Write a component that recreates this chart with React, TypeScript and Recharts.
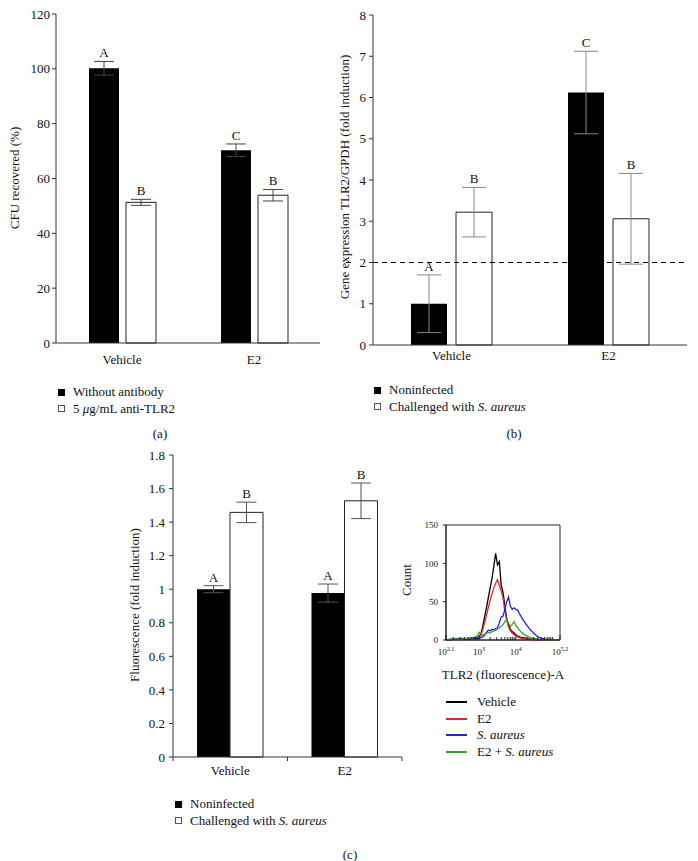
import React from 'react';
import {
  BarChart, Bar, XAxis, YAxis, ErrorBar, LabelList, ReferenceLine,
  LineChart, Line, ReferenceArea,
} from 'recharts';

const FONT = "'Liberation Serif', 'DejaVu Serif', serif";

// (a) CFU recovered
const A_GROUPS = ['Vehicle', 'E2'];
const A_NO_AB = [100.2, 70.3];
const A_NO_AB_ERR = [2.5, 2.3];
const A_NO_AB_TAG = ['A', 'C'];
const A_ANTI = [51.3, 53.9];
const A_ANTI_ERR = [1.1, 2.1];
const A_ANTI_TAG = ['B', 'B'];
const A_TICKS = [0, 20, 40, 60, 80, 100, 120];

// (b) TLR2 gene expression
const B_GROUPS = ['Vehicle', 'E2'];
const B_NONINF = [1.0, 6.12];
const B_NONINF_ERR = [0.7, 1.0];
const B_NONINF_TAG = ['A', 'C'];
const B_CHAL = [3.22, 3.06];
const B_CHAL_ERR = [0.6, 1.1];
const B_CHAL_TAG = ['B', 'B'];
const B_TICKS = [0, 1, 2, 3, 4, 5, 6, 7, 8];
const B_THRESHOLD = 2;

// (c) TLR2 fluorescence
const C_GROUPS = ['Vehicle', 'E2'];
const C_NONINF = [1.0, 0.977];
const C_NONINF_ERR = [0.021, 0.054];
const C_NONINF_TAG = ['A', 'A'];
const C_CHAL = [1.458, 1.527];
const C_CHAL_ERR = [0.061, 0.106];
const C_CHAL_TAG = ['B', 'B'];
const C_TICKS = [0, 0.2, 0.4, 0.6, 0.8, 1, 1.2, 1.4, 1.6, 1.8];

// flow histogram, x = log10(fluorescence)
const H_LOG_X = [2.1, 2.3, 2.5, 2.7, 2.85, 2.95, 3.0, 3.05, 3.1, 3.15, 3.2, 3.25, 3.3, 3.35, 3.4, 3.45, 3.5, 3.55, 3.6, 3.65, 3.7, 3.75, 3.8, 3.85, 3.9, 3.95, 4.0, 4.05, 4.1, 4.15, 4.2, 4.3, 4.4, 4.5, 4.6, 4.7, 4.8, 5.0, 5.2];
const H_VEHICLE = [0, 1, 2, 1, 3, 2, 4, 8, 18, 30, 42, 55, 68, 80, 96, 113, 98, 102, 72, 62, 45, 28, 20, 14, 11, 9, 7, 5, 4, 3, 3, 2, 1, 1, 0, 0, 0, 0, 0];
const H_E2 = [0, 1, 1, 2, 2, 3, 3, 6, 14, 22, 32, 42, 52, 60, 68, 74, 79, 71, 64, 55, 38, 26, 17, 12, 9, 7, 6, 4, 3, 2, 2, 1, 1, 0, 0, 0, 0, 0, 0];
const H_SA = [0, 1, 2, 1, 2, 3, 2, 3, 4, 6, 10, 13, 12, 14, 13, 15, 16, 22, 30, 31, 40, 50, 56, 44, 40, 42, 40, 39, 34, 30, 26, 19, 13, 8, 4, 2, 1, 0, 0];
const H_E2_SA = [0, 1, 1, 2, 3, 5, 10, 8, 6, 8, 9, 10, 9, 11, 12, 13, 14, 16, 18, 20, 24, 27, 22, 18, 20, 24, 19, 16, 13, 10, 8, 5, 3, 2, 1, 0, 0, 0, 0];
const H_Y_TICKS = [0, 50, 100, 150];
const H_LABELED = [2.1, 3, 4, 5.2];
const H_MINOR = [2.3, 2.48, 2.6, 2.7, 2.78, 2.85, 2.9, 2.95, 3.3, 3.48, 3.6, 3.7, 3.78, 3.85, 3.9, 3.95, 4.3, 4.48, 4.6, 4.7, 4.78, 4.85, 4.9, 4.95, 5.0];
const H_SERIES = [
  { key: 'vehicle', color: '#000000' },
  { key: 'e2', color: '#e3262b' },
  { key: 'sa', color: '#2323d8' },
  { key: 'e2sa', color: '#3f9f35' },
];
const H_NAMES: Record<string, React.ReactNode> = {
  vehicle: 'Vehicle',
  e2: 'E2',
  sa: <i>S. aureus</i>,
  e2sa: <>E2 + <i>S. aureus</i></>,
};

const aData = A_GROUPS.map((g, i) => ({ g, noAb: A_NO_AB[i], noAbErr: A_NO_AB_ERR[i], anti: A_ANTI[i], antiErr: A_ANTI_ERR[i] }));
const bData = B_GROUPS.map((g, i) => ({ g, non: B_NONINF[i], nonErr: B_NONINF_ERR[i], chal: B_CHAL[i], chalErr: B_CHAL_ERR[i] }));
const cData = C_GROUPS.map((g, i) => ({ g, non: C_NONINF[i], nonErr: C_NONINF_ERR[i], chal: C_CHAL[i], chalErr: C_CHAL_ERR[i] }));
const hData = H_LOG_X.map((x, i) => ({ x, vehicle: H_VEHICLE[i], e2: H_E2[i], sa: H_SA[i], e2sa: H_E2_SA[i] }));
const hTicks = [...H_LABELED, ...H_MINOR].sort((p, q) => p - q);

// letter above the error bar
const makeTag = (vals: number[], errs: number[], tags: string[]) => (p: any) => {
  const box = p.viewBox && p.viewBox.width != null ? p.viewBox : p;
  const i = p.index;
  const top = box.y - (box.height * errs[i]) / vals[i];
  return (
    <text x={box.x + box.width / 2} y={top - 4} textAnchor="middle" fontSize={13} fontFamily={FONT} fill="#111">
      {tags[i]}
    </text>
  );
};

const tickStyle = { fontSize: 13, fill: '#111', fontFamily: FONT };

function CTick(props: any) {
  const { x, y, payload } = props;
  const half = 57.25;
  return (
    <g>
      <line x1={x + half} x2={x + half} y1={y} y2={y + 4} stroke="#333" />
      {payload.index === 0 && <line x1={x - half} x2={x - half} y1={y} y2={y + 4} stroke="#333" />}
      <text x={x} y={y + 18} textAnchor="middle" fontSize={13} fontFamily={FONT} fill="#111">{payload.value}</text>
    </g>
  );
}

function LogTick(props: any) {
  const { x, y, payload } = props;
  const v = payload.value;
  const major = H_LABELED.includes(v);
  return (
    <g>
      <line x1={x} x2={x} y1={y} y2={y - (major ? 5 : 3)} stroke="#222" />
      {major && (
        <text x={x} y={y + 15} textAnchor="middle" fontSize={9} fontFamily={FONT} fill="#111">
          <tspan>10</tspan>
          <tspan dy={-4} fontSize={6}>{v === 3 || v === 4 ? String(v) : v.toFixed(1)}</tspan>
        </text>
      )}
    </g>
  );
}

const sq = (filled: boolean): React.CSSProperties => ({
  display: 'inline-block', width: 7, height: 7, boxSizing: 'border-box',
  background: filled ? '#000' : '#fff', border: filled ? 'none' : '1px solid #555',
});

function Legend2({ left, top, items }: { left: number; top: number; items: { filled: boolean; label: React.ReactNode }[] }) {
  return (
    <div style={{ position: 'absolute', left, top, fontSize: 13, lineHeight: '16px', color: '#111' }}>
      {items.map((it, i) => (
        <div key={i} style={{ display: 'flex', alignItems: 'center', height: i === 0 ? 16 : 17 }}>
          <span style={sq(it.filled)} />
          <span style={{ marginLeft: 8, whiteSpace: 'nowrap' }}>{it.label}</span>
        </div>
      ))}
    </div>
  );
}

function VLabel({ cx, cy, children }: { cx: number; cy: number; children: React.ReactNode }) {
  return (
    <div style={{ position: 'absolute', left: cx, top: cy, transform: 'translate(-50%, -50%) rotate(-90deg)', whiteSpace: 'nowrap', fontSize: 13, color: '#111' }}>
      {children}
    </div>
  );
}

function Caption({ cx, cy, children }: { cx: number; cy: number; children: React.ReactNode }) {
  return (
    <div style={{ position: 'absolute', left: cx, top: cy, transform: 'translate(-50%, -50%)', fontSize: 13, color: '#111' }}>
      {children}
    </div>
  );
}

const abs = (left: number, top: number): React.CSSProperties => ({ position: 'absolute', left, top });

export default function App() {
  const axisStroke = '#333';
  return (
    <div style={{ position: 'absolute', left: 0, top: 0, width: 698, height: 861, background: '#fff', fontFamily: FONT, overflow: 'hidden' }}>
      {/* (a) */}
      <div style={abs(0, 0)}>
        <BarChart width={340} height={380} data={aData} margin={{ top: 14, right: 20, left: 16, bottom: 7 }} barGap={7}>
          <XAxis dataKey="g" height={30} tickLine={false} tickSize={0} tickMargin={12} stroke={axisStroke} tick={tickStyle} />
          <YAxis width={40} domain={[0, 120]} ticks={A_TICKS} tickSize={4} tickMargin={2} stroke={axisStroke} tick={tickStyle} interval={0} />
          <Bar dataKey="noAb" fill="#000" barSize={30} isAnimationActive={false}>
            <ErrorBar dataKey="noAbErr" width={10} stroke="#444" strokeWidth={1} />
            <LabelList dataKey="noAb" content={makeTag(A_NO_AB, A_NO_AB_ERR, A_NO_AB_TAG)} />
          </Bar>
          <Bar dataKey="anti" fill="#fff" stroke="#222" strokeWidth={1} barSize={30} isAnimationActive={false}>
            <ErrorBar dataKey="antiErr" width={10} stroke="#444" strokeWidth={1} />
            <LabelList dataKey="anti" content={makeTag(A_ANTI, A_ANTI_ERR, A_ANTI_TAG)} />
          </Bar>
        </BarChart>
      </div>
      <VLabel cx={15} cy={178}>CFU recovered (%)</VLabel>
      <Legend2 left={58} top={384} items={[
        { filled: true, label: 'Without antibody' },
        { filled: false, label: <>5 <i>μ</i>g/mL anti-TLR2</> },
      ]} />
      <Caption cx={160} cy={434}>(a)</Caption>

      {/* (b) */}
      <div style={abs(340, 0)}>
        <BarChart width={358} height={380} data={bData} margin={{ top: 15, right: 11, left: 13, bottom: 5 }} barGap={9}>
          <XAxis dataKey="g" height={30} tickLine={false} tickSize={0} tickMargin={6} stroke={axisStroke} tick={tickStyle} />
          <YAxis width={20} domain={[0, 8]} ticks={B_TICKS} tickSize={4} tickMargin={3} stroke={axisStroke} tick={tickStyle} interval={0} />
          <ReferenceLine
            y={B_THRESHOLD}
            stroke="#000"
            strokeDasharray="5 4"
            shape={(p: any) => (
              <g>
                <line x1={p.x1 - 27} x2={p.x1 - 22} y1={p.y1} y2={p.y2} stroke="#000" />
                <line x1={p.x1} x2={p.x2 + 1} y1={p.y1} y2={p.y2} stroke="#000" strokeDasharray="5 4" />
              </g>
            )}
          />
          <Bar dataKey="non" fill="#000" barSize={36} isAnimationActive={false}>
            <ErrorBar dataKey="nonErr" width={12} stroke="#888" strokeWidth={1} />
            <LabelList dataKey="non" content={makeTag(B_NONINF, B_NONINF_ERR, B_NONINF_TAG)} />
          </Bar>
          <Bar dataKey="chal" fill="#fff" stroke="#222" strokeWidth={1} barSize={36} isAnimationActive={false}>
            <ErrorBar dataKey="chalErr" width={12} stroke="#888" strokeWidth={1} />
            <LabelList dataKey="chal" content={makeTag(B_CHAL, B_CHAL_ERR, B_CHAL_TAG)} />
          </Bar>
        </BarChart>
      </div>
      <VLabel cx={345} cy={177}>Gene expression TLR2/GPDH (fold induction)</VLabel>
      <Legend2 left={374} top={382} items={[
        { filled: true, label: 'Noninfected' },
        { filled: false, label: <>Challenged with <i>S. aureus</i></> },
      ]} />
      <Caption cx={514} cy={434}>(b)</Caption>

      {/* (c) */}
      <div style={abs(100, 440)}>
        <BarChart width={320} height={340} data={cData} margin={{ top: 15, right: 18, left: 33, bottom: 3 }} barGap={0}>
          <XAxis dataKey="g" height={20} tickLine={false} tickSize={0} tickMargin={0} stroke={axisStroke} tick={<CTick />} interval={0} />
          <YAxis width={40} domain={[0, 1.8]} ticks={C_TICKS} tickSize={4} tickMargin={4} stroke={axisStroke} tick={tickStyle} interval={0} />
          <Bar dataKey="non" fill="#000" barSize={33} isAnimationActive={false}>
            <ErrorBar dataKey="nonErr" width={10} stroke="#555" strokeWidth={1} />
            <LabelList dataKey="non" content={makeTag(C_NONINF, C_NONINF_ERR, C_NONINF_TAG)} />
          </Bar>
          <Bar dataKey="chal" fill="#fff" stroke="#222" strokeWidth={1} barSize={33} isAnimationActive={false}>
            <ErrorBar dataKey="chalErr" width={10} stroke="#555" strokeWidth={1} />
            <LabelList dataKey="chal" content={makeTag(C_CHAL, C_CHAL_ERR, C_CHAL_TAG)} />
          </Bar>
        </BarChart>
      </div>
      <VLabel cx={135} cy={605}>Fluorescence (fold induction)</VLabel>
      <Legend2 left={175} top={796} items={[
        { filled: true, label: 'Noninfected' },
        { filled: false, label: <>Challenged with <i>S. aureus</i></> },
      ]} />
      <Caption cx={350} cy={855}>(c)</Caption>

      {/* histogram */}
      <div style={abs(400, 515)}>
        <LineChart width={175} height={150} data={hData} margin={{ top: 10, right: 15, left: 16, bottom: 5 }}>
          <XAxis dataKey="x" type="number" domain={[2.1, 5.2]} ticks={hTicks} interval={0} height={20}
            tickLine={false} tickSize={0} tickMargin={0} stroke="#222" tick={<LogTick />} allowDataOverflow />
          <YAxis width={30} domain={[0, 150]} ticks={H_Y_TICKS} tickSize={3} tickMargin={5} stroke="#222"
            tick={{ fontSize: 9, fill: '#111', fontFamily: FONT }} interval={0} />
          <ReferenceArea x1={2.1} x2={5.2} y1={0} y2={150} fill="none" stroke="#222" strokeWidth={1} ifOverflow="visible" />
          {H_SERIES.map((s) => (
            <Line key={s.key} dataKey={s.key} type="linear" stroke={s.color} strokeWidth={1.3} dot={false} isAnimationActive={false} />
          ))}
        </LineChart>
      </div>
      <VLabel cx={407} cy={580}>Count</VLabel>
      <div style={{ position: 'absolute', left: 503, top: 675, transform: 'translate(-50%, -50%)', fontSize: 13, whiteSpace: 'nowrap', color: '#111' }}>
        TLR2 (fluorescence)-A
      </div>
      <div style={{ position: 'absolute', left: 446, top: 694, fontSize: 13, color: '#111' }}>
        {H_SERIES.map((s) => (
          <div key={s.key} style={{ display: 'flex', alignItems: 'center', height: 16.5 }}>
            <span style={{ display: 'inline-block', width: 21, height: 2, background: s.color }} />
            <span style={{ marginLeft: 10, whiteSpace: 'nowrap' }}>{H_NAMES[s.key]}</span>
          </div>
        ))}
      </div>
    </div>
  );
}
